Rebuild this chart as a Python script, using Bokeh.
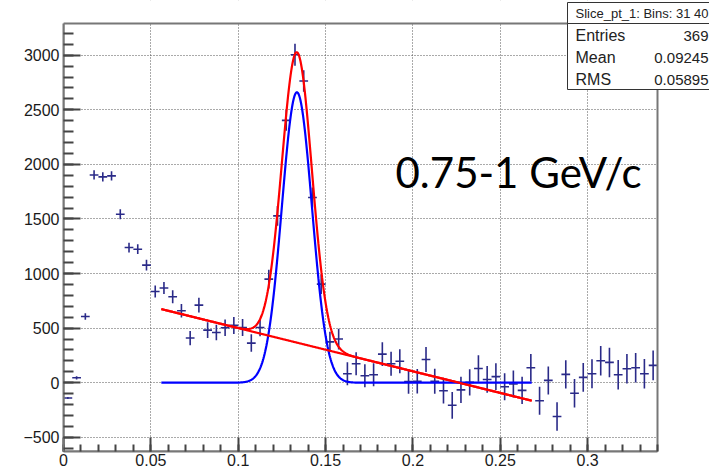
import numpy as np
from bokeh.plotting import figure
from bokeh.models import FixedTicker, CustomJSTickFormatter, ColumnDataSource, Range1d
from bokeh.core.properties import value
from bokeh.embed import file_html
from bokeh.resources import INLINE

# ---------------- data ----------------
bin_width = 0.005
x_min, x_max = 0.0, 0.34
y_min, y_max = -630.0, 3290.0
counts = [-140, 45, 607, 1903, 1885, 1894, 1543, 1238, 1223, 1077,
          835, 868, 787, 659, 409, 711, 482, 460, 503, 525,
          506, 363, 506, 949, 1528, 2403, 3004, 2763, 1696, 903,
          374, 400, 82, 174, 64, 73, 262, 174, 196, 10,
          14, 212, 14, -73, -207, -66, 3, 130, 30, 56,
          -37, -12, -70, 137, -165, 21, -310, 76, -97, 49,
          82, 201, 186, 73, 128, 137, 82, 159]
errors = [10, 15, 30, 42, 42, 42, 45, 45, 45, 50,
          55, 55, 60, 62, 65, 68, 72, 72, 75, 78,
          78, 80, 80, 85, 90, 95, 100, 98, 92, 90,
          92, 95, 105, 105, 105, 105, 108, 110, 110, 110,
          112, 115, 115, 118, 122, 120, 120, 122, 122, 122,
          124, 124, 125, 126, 128, 128, 130, 130, 130, 132,
          132, 135, 135, 135, 135, 136, 136, 137]

# fit parameters (gaus + pol1), drawn over the fit range
gaus_amp = 2660.0
gaus_mean = 0.1336
gaus_sigma = 0.0086
pol1_p0 = 896.0
pol1_p1 = -3958.0
fit_lo, fit_hi = 0.056, 0.268

x_ticks = [0, 0.05, 0.1, 0.15, 0.2, 0.25, 0.3]
x_minor = [round(0.01 * i, 2) for i in range(0, 35)]
y_ticks = [-500, 0, 500, 1000, 1500, 2000, 2500, 3000]
y_minor = list(range(-600, 3300, 100))

stats_title = "Slice_pt_1: Bins: 31 40"
stats_names = ["Entries", "Mean", "RMS"]
stats_values = ["369", "0.09245", "0.05895"]
annotation_text = "0.75-1 GeV/c"

# ---------------- layout geometry (canvas pixels) ----------------
W, H = 709, 470
FL, FR, FT, FB = 63, 657, 23, 451          # ROOT frame edges on the canvas
sx = (x_max - x_min) / (FR - FL)           # data units per pixel
sy = (y_max - y_min) / (FB - FT)


def cx(px):
    return x_min + (px - FL) * sx


def cy(py):
    return y_min + (FB - py) * sy


# ---------------- derived ----------------
counts_a = np.array(counts, dtype=float)
errors_a = np.array(errors, dtype=float)
xc = x_min + (np.arange(len(counts)) + 0.5) * bin_width
src = ColumnDataSource(dict(
    x=xc, y=counts_a,
    xl=xc - bin_width / 2, xr=xc + bin_width / 2,
    yl=counts_a - errors_a, yh=counts_a + errors_a,
))

xf = np.linspace(fit_lo, fit_hi, 600)
gaus = gaus_amp * np.exp(-0.5 * ((xf - gaus_mean) / gaus_sigma) ** 2)
pol1 = pol1_p0 + pol1_p1 * xf
total = gaus + pol1

# ---------------- figure ----------------
# the bokeh frame reaches the top and right canvas edges so the stats box can overflow
p = figure(width=W, height=H, x_range=Range1d(x_min, cx(W)),
           y_range=Range1d(y_min, cy(0)), output_backend="svg",
           toolbar_location=None, min_border_left=FL, min_border_right=0,
           min_border_top=0, min_border_bottom=H - FB)
p.background_fill_color = "white"
p.border_fill_color = "white"
p.outline_line_color = None

for ax, ticks, minor, bnds in ((p.xaxis[0], x_ticks, x_minor, (x_min, x_max)),
                               (p.yaxis[0], y_ticks, y_minor, (y_min, y_max))):
    ax.ticker = FixedTicker(ticks=ticks, minor_ticks=minor)
    ax.bounds = bnds
    ax.formatter = CustomJSTickFormatter(
        code="return String(Math.round(tick*1000)/1000).replace('-', '\\u2212')")
    ax.axis_line_color = "#777777"
    ax.axis_line_width = 2
    ax.major_tick_out = 0
    ax.minor_tick_out = 0
    ax.major_tick_line_color = "#444444"
    ax.minor_tick_line_color = "#444444"
    ax.major_tick_line_width = 2
    ax.minor_tick_line_width = 2
    ax.major_label_text_font = "Liberation Sans"
    ax.major_label_text_font_size = "16px"
    ax.major_label_text_color = "#1a1a1a"

p.xaxis.major_tick_in = 14
p.xaxis.minor_tick_in = 7
p.yaxis.major_tick_in = 17
p.yaxis.minor_tick_in = 10
p.xaxis.major_label_standoff = 2
p.yaxis.major_label_standoff = 4

p.grid.grid_line_color = "#555555"
p.grid.grid_line_dash = "1 2"
p.grid.grid_line_width = 1

# white masks outside the ROOT frame (hide grid lines there)
p.quad(left=[x_max, x_min], right=[cx(W + 5), cx(W + 5)],
       bottom=[y_min, y_max], top=[cy(-5), cy(-5)],
       fill_color="white", line_color=None)

pt_color = "#2a2a88"
p.segment(x0="x", y0="yl", x1="x", y1="yh", source=src, line_color=pt_color, line_width=1.6)
p.segment(x0="xl", y0="y", x1="xr", y1="y", source=src, line_color=pt_color, line_width=1.6)

p.line(xf, total, line_color="#ff0000", line_width=2.2)
p.line(xf, gaus, line_color="#0000ff", line_width=2.2)
p.line(xf, pol1, line_color="#ff0000", line_width=2.2)

# ROOT frame outline (top and right edges; left/bottom are the axis lines)
p.quad(left=[x_min], right=[x_max], bottom=[y_min], top=[y_max],
       fill_color=None, line_color="#777777", line_width=2)

# text overlay
p.text(x=[cx(395)], y=[cy(171)], text=[annotation_text],
       text_font=value("Lato"), text_font_size=value("42px"),
       text_color="black", text_baseline="alphabetic", text_align="left")

# statistics box
p.quad(left=[cx(567), cx(567)], right=[cx(W + 10), cx(W + 10)],
       top=[cy(2), cy(23)], bottom=[cy(23), cy(89)],
       fill_color="white", line_color="#333333", line_width=1)
p.text(x=[cx(575)], y=[cy(13)], text=[stats_title],
       text_font=value("Liberation Sans"), text_font_size=value("13px"),
       text_color="#222222", text_baseline="middle", text_align="left")
row_y = [cy(35), cy(57), cy(79)]
p.text(x=[cx(575)] * 3, y=row_y, text=stats_names,
       text_font=value("Liberation Sans"), text_font_size=value("16px"),
       text_color="#222222", text_baseline="middle", text_align="left")
p.text(x=[cx(708)] * 3, y=row_y, text=stats_values,
       text_font=value("Liberation Sans"), text_font_size=value("15px"),
       text_color="#222222", text_baseline="middle", text_align="right")

open("out.html", "w").write(file_html(p, INLINE))
